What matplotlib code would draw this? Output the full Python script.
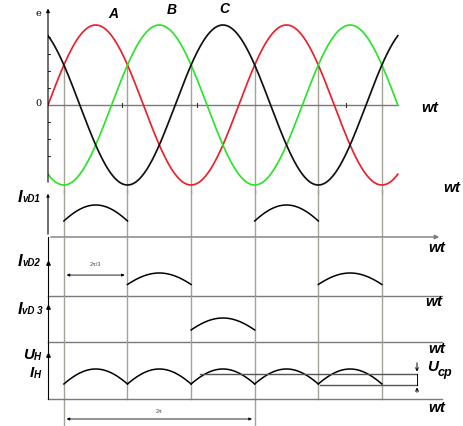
import numpy as np
import matplotlib
matplotlib.use("Agg")
import matplotlib.pyplot as plt

plt.rcParams['font.family'] = ['Liberation Sans', 'DejaVu Sans']

# ---- data -------------------------------------------------------------
PI = np.pi
phase_names = ["A", "B", "C"]
phase_colors = ["#e8232b", "#2ee22e", "#111111"]
phase_shift = [0.0, 2 * PI / 3, 4 * PI / 3]
theta_end = 11 * PI / 3

# commutation instants (vertical grid lines)
switch_points = [PI / 6 + k * 2 * PI / 3 for k in range(6)]
long_lines = [switch_points[0], switch_points[3]]

# conduction intervals of each diode
vd1_pulses = [(PI / 6, 5 * PI / 6), (13 * PI / 6, 17 * PI / 6)]
vd2_pulses = [(5 * PI / 6, 3 * PI / 2), (17 * PI / 6, 7 * PI / 2)]
vd3_pulses = [(3 * PI / 2, 13 * PI / 6)]
load_pulses = [(switch_points[k], switch_points[k + 1]) for k in range(5)]

axis_ticks = [2.45, 4.90, 9.80]
y_ticks = [-0.64, -0.42, -0.21, 0.21, 0.42, 0.64, 0.85]
u_avg = 0.82
u_min = 0.48

# ---- layout -----------------------------------------------------------
W, H = 464, 426
X0, XR, PERIOD = 48, 445, 190.8
tpp = 2 * PI / PERIOD
xmax = (XR - X0) * tpp

fig = plt.figure(figsize=(W / 100, H / 100), dpi=100)

def panel(top, bottom, base, unit):
    ax = fig.add_axes([X0 / W, 1 - bottom / H, (XR - X0) / W, (bottom - top) / H])
    ax.set_xlim(0, xmax)
    ax.set_ylim((base - bottom) / unit, (base - top) / unit)
    ax.axis('off')
    return ax

def ftext(x, y, s, **kw):
    fig.text(x / W, 1 - y / H, s, va='center', **kw)

GRID = "#a3a393"
AXC = "#7a7a7a"
bi = dict(fontweight='bold', fontstyle='italic')

# ---- top panel: phase voltages -----------------------------------------
ax0 = panel(0, 190, 105, 80)
th = np.linspace(0, theta_end, 600)
for name, col, sh in zip(phase_names, phase_colors, phase_shift):
    ax0.plot(th, np.sin(th - sh), color=col, lw=1.25, zorder=3)
ax0.plot([0, theta_end], [0, 0], color=AXC, lw=1.0)
ax0.annotate("", xy=(0, 1.24), xytext=(0, -1.0),
             arrowprops=dict(arrowstyle='-|>', color='black', lw=0.8,
                             mutation_scale=5), annotation_clip=False)
for yt in y_ticks:
    ax0.plot([0, 0.05], [yt, yt], color='black', lw=0.6)
for xt in axis_ticks:
    ax0.plot([xt, xt], [-0.02, 0.02], color='#333333', lw=0.8)
for t in switch_points:
    ax0.plot([t, t], [0.5, -1.1], color=GRID, lw=1.0, zorder=1, clip_on=False)

# ---- diode currents -------------------------------------------------------
def current_panel(top, bottom, unit, pulses, shift, marker_y):
    ax = panel(top, bottom, bottom, unit)
    ytop = (bottom - top) / unit
    for t in switch_points:
        ax.axvline(t, color=GRID, lw=1.0, zorder=1)
    for a, b in pulses:
        tt = np.linspace(a, b, 60)
        ax.plot(tt, np.sin(tt - shift), color='black', lw=1.1)
    xend = (442 - X0) * tpp
    ax.plot([0, xend], [0, 0], color=AXC, lw=1.0, clip_on=False)
    ax.plot([0, 0], [0, ytop], color='black', lw=0.8, clip_on=False)
    ax.plot([0], [marker_y], marker='^', ms=2.5, color='black', clip_on=False)
    return ax

ax1 = panel(190, 237, 237, 32)
for t in switch_points:
    ax1.axvline(t, color=GRID, lw=1.0, zorder=1)
for a, b in vd1_pulses:
    tt = np.linspace(a, b, 60)
    ax1.plot(tt, np.sin(tt - phase_shift[0]), color='black', lw=1.1)
ax1.annotate("", xy=((442 - X0) * tpp, 0), xytext=(0, 0),
             arrowprops=dict(arrowstyle='-|>', color=AXC, lw=1.0, mutation_scale=6),
             annotation_clip=False)
ax1.annotate("", xy=(0, 1.44), xytext=(0, 0),
             arrowprops=dict(arrowstyle='-|>', color='black', lw=0.8, mutation_scale=4),
             annotation_clip=False)

ax2 = current_panel(237, 296, 23, vd2_pulses, phase_shift[1], 1.43)
ax2.annotate("", xy=(switch_points[0], 0.91), xytext=(switch_points[1], 0.91),
             arrowprops=dict(arrowstyle='<|-|>', color='black', lw=0.6, mutation_scale=4))
ax2.text((switch_points[0] + switch_points[1]) / 2, 1.35, "2π/3", fontsize=4,
         ha='center', va='center', color='#444444')

ax3 = current_panel(296, 342, 24, vd3_pulses, phase_shift[2], 1.46)

# ---- load voltage / current ------------------------------------------------
ax4 = panel(342, 426, 399, 30)
for t in switch_points:
    bottom_v = -0.9 if t in long_lines else 0
    ax4.plot([t, t], [bottom_v, 1.9], color=GRID, lw=1.0, zorder=1)
for a, b in load_pulses:
    tt = np.linspace(a, b, 60)
    ax4.plot(tt, np.max([np.sin(tt - s) for s in phase_shift], axis=0),
             color='black', lw=1.1)
xend = (442 - X0) * tpp
ax4.plot([0, xend], [0, 0], color=AXC, lw=1.0, clip_on=False)
ax4.plot([0, 0], [0, 1.9], color='black', lw=0.8, clip_on=False)
ax4.plot([0], [1.47], marker='^', ms=2.5, color='black', clip_on=False)
x_ucp = (417 - X0) * tpp
ax4.plot([(200 - X0) * tpp, x_ucp], [u_avg, u_avg], color='#555555', lw=1.0)
ax4.plot([(320 - X0) * tpp, x_ucp], [u_min, u_min], color='#555555', lw=1.0)
ax4.annotate("", xy=(x_ucp, u_avg), xytext=(x_ucp, 1.3),
             arrowprops=dict(arrowstyle='->', color='black', lw=0.7, mutation_scale=5))
ax4.annotate("", xy=(x_ucp, u_min), xytext=(x_ucp, 0.13),
             arrowprops=dict(arrowstyle='->', color='black', lw=0.7, mutation_scale=5))
ax4.plot([x_ucp, x_ucp], [u_min, u_avg], color='black', lw=0.7)
ax4.annotate("", xy=(long_lines[0], -0.667), xytext=(long_lines[1], -0.667),
             arrowprops=dict(arrowstyle='<|-|>', color='black', lw=0.6, mutation_scale=4))
ax4.text((long_lines[0] + long_lines[1]) / 2, -0.43, "2π", fontsize=4,
         ha='center', va='center', color='#444444')

# ---- labels -------------------------------------------------------------
ftext(38, 13, "e", fontsize=7, ha='center', family='DejaVu Serif')
ftext(38, 104, "0", fontsize=7, ha='center', family='DejaVu Serif')
for name, (x, y) in zip(phase_names, [(113, 14), (172, 10), (224, 9)]):
    ftext(x, y, name, fontsize=10, ha='center', **bi)

for x, y in [(430, 108), (452, 188), (437, 248), (434, 302), (437, 349), (437, 408)]:
    ftext(x, y, "wt", fontsize=11, ha='center', **bi)

for y, sub in [(197, "vD1"), (261, "vD2"), (309, "vD 3")]:
    ftext(22, y, "I", fontsize=12, ha='right', **bi)
    ftext(22, y + 2, sub, fontsize=7, ha='left', **bi)
ftext(34, 355, "U", fontsize=11, ha='right', **bi)
ftext(34, 357, "H", fontsize=7, ha='left', **bi)
ftext(34, 373, "I", fontsize=11, ha='right', **bi)
ftext(34, 375, "H", fontsize=7, ha='left', **bi)
ftext(427, 367, "U", fontsize=11, ha='left', **bi)
ftext(438, 373, "cp", fontsize=9, ha='left', **bi)

fig.savefig("out.png", dpi=100, facecolor='white')
